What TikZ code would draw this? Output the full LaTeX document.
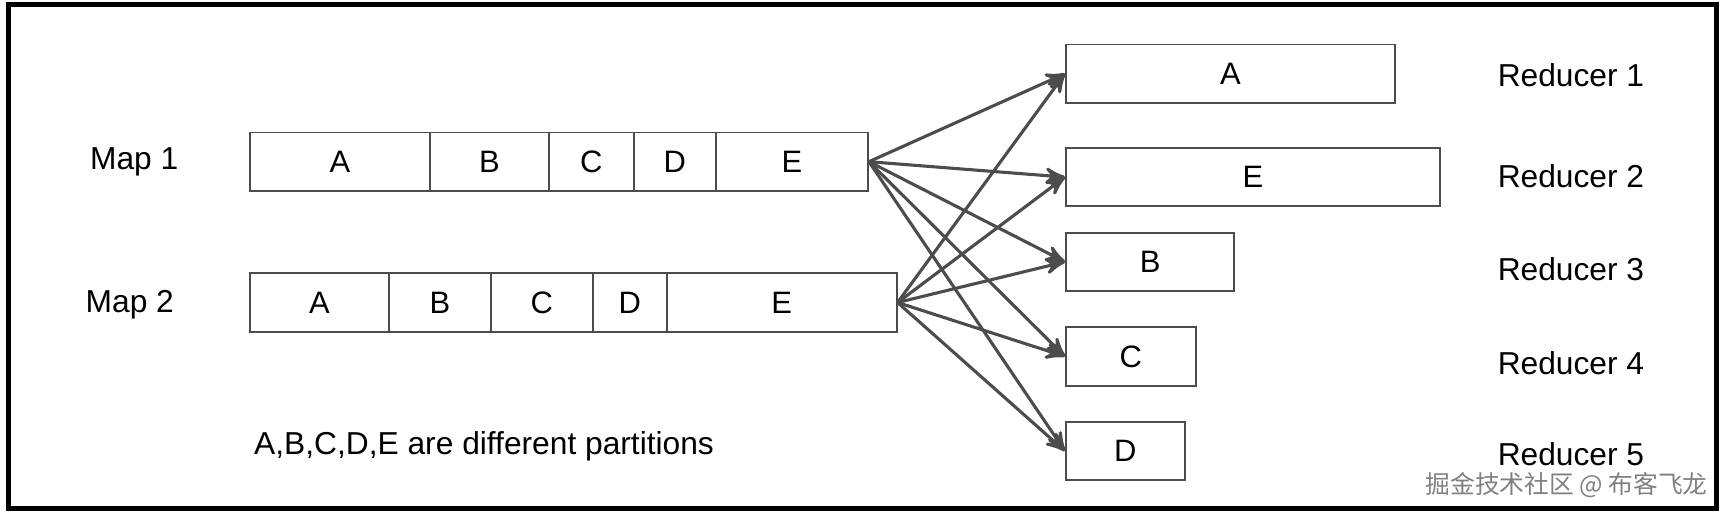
\documentclass[tikz,border=0pt]{standalone}
\usepackage{fontspec}
\setmainfont{Liberation Sans}
\newfontfamily\cjk{Noto Sans CJK SC}
\usetikzlibrary{arrows,positioning}
\tikzstyle{seg}=[draw=black!70,line width=0.5pt,minimum height=0.53cm,inner sep=0pt,anchor=west,font=\fontsize{8}{9}\selectfont]
\tikzstyle{lbl}=[font=\fontsize{8.2}{9}\selectfont]
\tikzstyle{flow}=[->,>=stealth',draw=black!70,line width=0.8pt]

\begin{document}
\begin{tikzpicture}[x=0.01cm,y=-0.01cm]
          \useasboundingbox (0,0) rectangle (1568,468);
          \draw[line width=1.2pt] (8,4) rectangle (1560,462);

          %% map outputs
          \node[lbl] (map1) at (122,147) {Map 1};
          \node[lbl] (map2) at (118,277) {Map 2};
          \node[seg,minimum width=1.64cm] (m1a) at (226,147) {A};
          \node[seg,minimum width=1.08cm] (m1b) at (390,147) {B};
          \node[seg,minimum width=0.77cm] (m1c) at (498,147) {C};
          \node[seg,minimum width=0.75cm] (m1d) at (575,147) {D};
          \node[seg,minimum width=1.38cm] (m1e) at (650,147) {E};

          \node[seg,minimum width=1.27cm] (m2a) at (226,275) {A};
          \node[seg,minimum width=0.92cm] (m2b) at (353,275) {B};
          \node[seg,minimum width=0.93cm] (m2c) at (445,275) {C};
          \node[seg,minimum width=0.67cm] (m2d) at (538,275) {D};
          \node[seg,minimum width=2.09cm] (m2e) at (605,275) {E};

          %% reducers
          \foreach \name/\txt/\w/\y in {ra/A/2.99/67, re/E/3.40/161, rb/B/1.53/238, rc/C/1.18/324, rd/D/1.08/410}{
            \node[seg,minimum width=\w cm] (\name) at (968,\y) {\txt};
          }
          \node[lbl] (red1) at (1428,68) {Reducer 1};
          \node[lbl] (red2) at (1428,160) {Reducer 2};
          \node[lbl] (red3) at (1428,245) {Reducer 3};
          \node[lbl] (red4) at (1428,330) {Reducer 4};
          \node[lbl] (red5) at (1428,413) {Reducer 5};

          \foreach \r in {ra,re,rb,rc,rd}{
            \draw[flow] (m1e.east) -- (\r.west);
            \draw[flow] (m2e.east) -- (\r.west);
          }

          \node[lbl] (note) at (440,406) {A,B,C,D,E are different partitions};
          \node[font=\cjk\fontsize{6.4}{7}\selectfont,text=black!50,inner sep=0pt] (mark) at (1424,441) {掘金技术社区 @ 布客飞龙};
        \end{tikzpicture}
\end{document}
